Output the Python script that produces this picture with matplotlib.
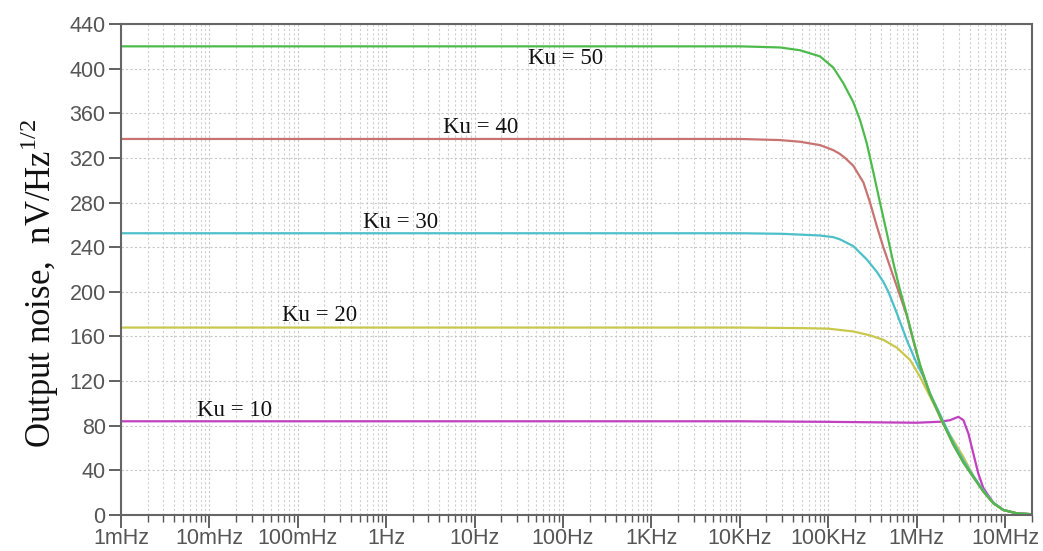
import matplotlib
matplotlib.use("Agg")
import matplotlib.pyplot as plt
from matplotlib.ticker import FixedLocator, LogLocator, NullFormatter

# ---- data ----
freq_k50 = [1e-3, 1e4, 2.85e4, 4.8e4, 8.07e4, 1.14e5, 1.48e5, 1.92e5, 2.29e5, 2.73e5, 3.24e5,
            3.85e5, 4.59e5, 5.45e5, 6.37e5, 7.72e5, 9.18e5, 1.09e6, 1.42e6, 2.0e6, 2.6e6,
            3.38e6, 4.38e6, 5.69e6, 7.38e6, 9.57e6, 1.36e7, 2.02e7]
noise_k50 = [420, 420, 419, 416.5, 411, 401, 387, 370, 354, 333, 307,
             280, 253, 226, 204, 180, 157, 135, 108, 82, 63,
             47, 34, 21, 10.5, 4.5, 1.5, 0.7]

freq_k40 = [1e-3, 1e4, 2.85e4, 4.8e4, 8.07e4, 1.14e5, 1.36e5, 1.55e5, 1.92e5, 2.5e5, 2.97e5,
            3.54e5, 4.2e5, 5.0e5, 5.96e5, 7.72e5, 9.18e5, 1.09e6, 1.42e6, 2.0e6, 2.6e6,
            3.38e6, 4.38e6, 5.69e6, 7.38e6, 9.57e6, 1.36e7, 2.02e7]
noise_k40 = [337, 337, 336, 334.5, 331.5, 327, 323.5, 320, 313, 298, 280,
             259, 240, 222.5, 205, 179, 156, 134, 108, 82, 63,
             47, 34, 21, 10.5, 4.5, 1.5, 0.7]

freq_k30 = [1e-3, 1e4, 3e4, 8e4, 1.14e5, 1.36e5, 1.92e5, 2.73e5, 3.54e5, 4.2e5, 4.79e5,
            5.96e5, 7.72e5, 1.0e6, 1.19e6, 1.42e6, 2.0e6, 2.6e6, 3.38e6, 4.38e6, 5.69e6,
            7.38e6, 9.57e6, 1.36e7, 2.02e7]
noise_k30 = [252.5, 252.5, 252, 250.5, 249, 247, 241, 229, 218, 209, 200,
             181, 157, 136, 124, 109, 84, 65, 49, 35, 22,
             11, 4.5, 1.5, 0.7]

freq_k20 = [1e-3, 1e4, 5e4, 1e5, 1.92e5, 2.97e5, 4.2e5, 5.96e5, 8.42e5, 1.09e6, 1.42e6,
            1.69e6, 2.0e6, 2.6e6, 3.38e6, 4.38e6, 5.69e6, 7.38e6, 9.57e6, 1.36e7, 2.02e7]
noise_k20 = [168, 168, 167.5, 167, 164.5, 161, 157, 150, 139, 124, 106,
             94, 81, 67, 52, 35, 21, 10.5, 4.5, 1.5, 0.7]

freq_k10 = [1e-3, 1e4, 1e5, 1e6, 1.84e6, 2.39e6, 2.96e6, 3.38e6, 3.85e6, 4.38e6, 4.99e6,
            5.69e6, 7.38e6, 9.57e6, 1.36e7, 2.02e7]
noise_k10 = [84, 84, 83.5, 82.7, 83.6, 85, 88, 85, 73, 55, 37,
             24, 11, 4.5, 1.5, 0.7]

series_labels = ["Ku = 50", "Ku = 40", "Ku = 30", "Ku = 20", "Ku = 10"]
label_freq = [40, 4.4, 0.55, 0.066, 0.0072]
label_noise = [409, 347, 262.5, 179, 94]

xtick_vals = [1e-3, 1e-2, 1e-1, 1e0, 1e1, 1e2, 1e3, 1e4, 1e5, 1e6, 1e7]
xtick_labels = ["1mHz", "10mHz", "100mHz", "1Hz", "10Hz", "100Hz",
                "1KHz", "10KHz", "100KHz", "1MHz", "10MHz"]
ytick_vals = list(range(0, 441, 40))

colors = ["#4cbb4c", "#c87272", "#4cc0c8", "#c8c84c", "#c040c0"]

# ---- figure ----
fig = plt.figure(figsize=(10.43, 5.51), dpi=100)
ax = fig.add_axes([0.116, 0.0653, 0.8735, 0.8911])

all_series = [(freq_k50, noise_k50), (freq_k40, noise_k40), (freq_k30, noise_k30),
              (freq_k20, noise_k20), (freq_k10, noise_k10)]
for (f, v), c in zip(all_series[::-1], colors[::-1]):
    ax.plot(f, v, color=c, lw=1.6, solid_joinstyle="round")

ax.set_xscale("log")
ax.set_xlim(1e-3, 2.02e7)
ax.set_ylim(0, 440)

ax.xaxis.set_major_locator(FixedLocator(xtick_vals))
ax.set_xticklabels(xtick_labels)
ax.xaxis.set_minor_locator(LogLocator(base=10, subs=range(2, 10), numticks=100))
ax.xaxis.set_minor_formatter(NullFormatter())
ax.set_yticks(ytick_vals)

tick_color = "#555555"
ax.tick_params(axis="both", which="major", direction="out", length=9, width=1.3,
               color=tick_color, labelcolor=tick_color, labelsize=15.5)
ax.tick_params(axis="x", which="minor", direction="out", length=5, width=1.0, color=tick_color)
ax.tick_params(axis="x", which="major", pad=0.5)
ax.tick_params(axis="y", which="major", pad=2)
for lab in ax.get_xticklabels() + ax.get_yticklabels():
    lab.set_family("Liberation Sans")

for s in ax.spines.values():
    s.set_color("#666666")
    s.set_linewidth(1.5)

ax.grid(True, which="major", axis="both", color="#c8c8c8", lw=0.8, linestyle=(0, (2, 2)))
ax.grid(True, which="minor", axis="x", color="#d0d0d0", lw=0.8, linestyle=(0, (2, 2)))
ax.set_axisbelow(True)

for t, fx, vy in zip(series_labels, label_freq, label_noise):
    ax.text(fx, vy, t, family="Liberation Serif", fontsize=16.5, color="#111111",
            ha="left", va="center")

ax.set_ylabel(r"Output noise,  nV/Hz$^{\mathregular{1/2}}$", family="Liberation Serif",
              fontsize=25, color="#111111")
ax.yaxis.set_label_coords(-0.066, 0.472)

fig.savefig("out.png", dpi=100)
